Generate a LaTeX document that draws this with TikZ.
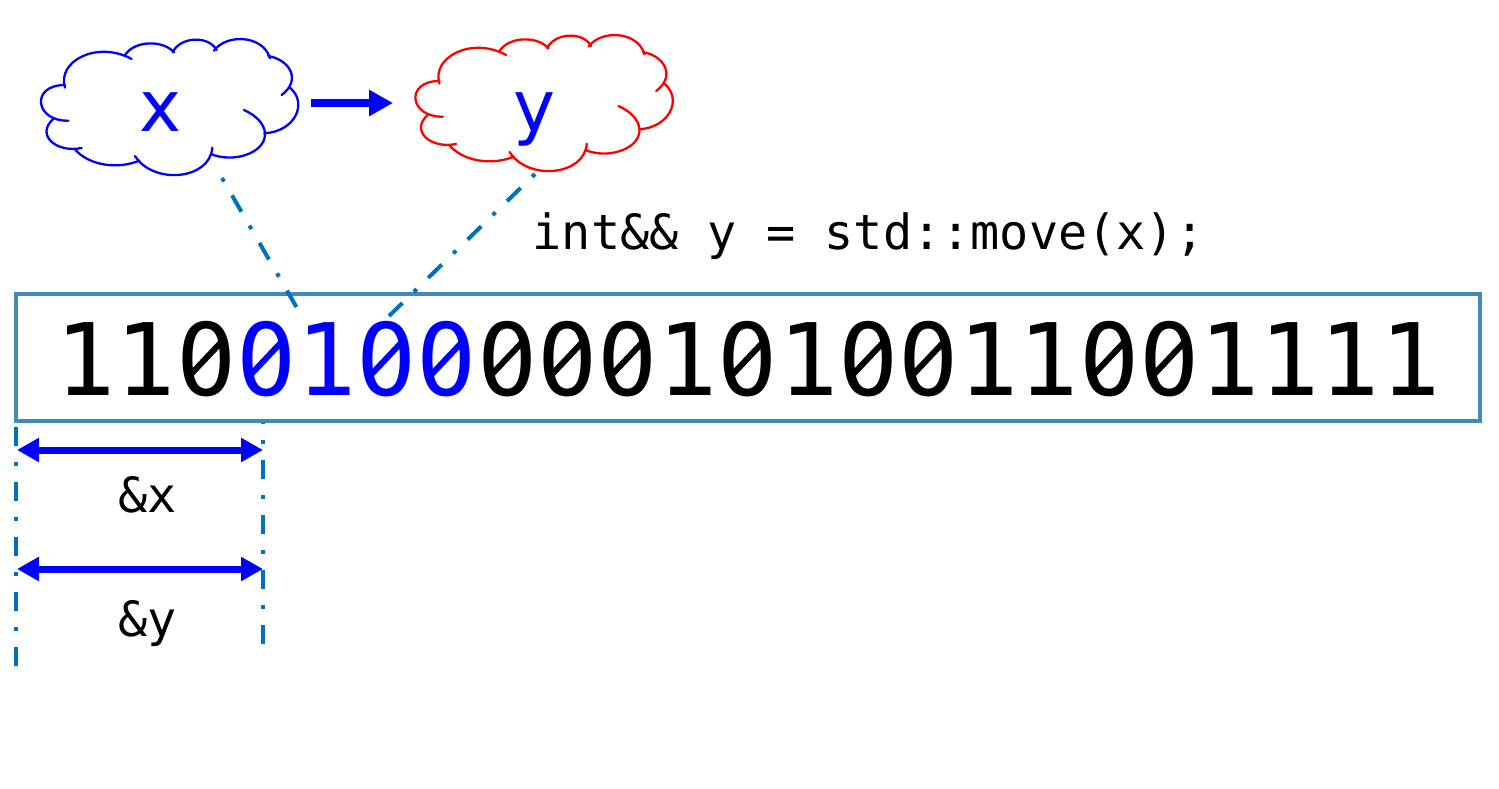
\documentclass[tikz,border=0pt]{standalone}
\usepackage{fontspec}
\setmainfont{DejaVu Sans}
\newfontfamily\monof{DejaVu Sans Mono}
\usetikzlibrary{arrows.meta}
\definecolor{boxc}{RGB}{64,139,181}
\definecolor{dashc}{RGB}{0,112,192}
\definecolor{bluec}{RGB}{0,0,255}
\tikzset{
  cloudline/.style={line width=2.3pt,line cap=round},
  dd/.style={dashc,line width=4pt,dash pattern=on 19pt off 16pt on 4pt off 16pt},
  ddot/.style={dd,dash phase=35pt},
  dimarrow/.style={bluec,line width=7pt,{Triangle[length=22pt,width=23pt]}-{Triangle[length=22pt,width=23pt]}},
  bigarrow/.style={bluec,line width=7.5pt,-{Triangle[length=24pt,width=25pt]}},
  codetext/.style={font=\monof\fontsize{48.5}{48.5}\selectfont,inner sep=0pt,anchor=base},
  cloudlabel/.style={font=\fontsize{71}{71}\selectfont,text=bluec,inner sep=0pt,anchor=base},
  zeroslash/.style={line width=6pt},
}
\newcommand{\cloudshape}[1]{%
\begin{scope}[#1,cloudline,x=0.3333pt,y=-0.3333pt]
\draw (135,203) .. controls (110,125) and (230,60) .. (335,117);
\draw (315,105) .. controls (345,60) and (430,60) .. (462,97);
\draw (458,97) .. controls (480,50) and (565,45) .. (590,90);
\draw (582,92) .. controls (620,40) and (730,45) .. (750,115);
\draw (745,108) .. controls (810,120) and (845,180) .. (785,225);
\draw (810,203) .. controls (865,250) and (825,335) .. (733,340);
\draw (672,270) .. controls (750,305) and (755,370) .. (690,400) .. controls (650,418) and (605,415) .. (575,403);
\draw (577,383) .. controls (570,480) and (400,495) .. (345,408);
\draw (358,422) .. controls (290,450) and (205,435) .. (165,388);
\draw (185,384) .. controls (110,400) and (45,345) .. (100,297);
\draw (145,302) .. controls (45,305) and (30,195) .. (135,195);
\end{scope}}
\newcommand{\zeroslashat}[2]{%
  \fill[white] ({84.9+60.2*#1},359) circle (9pt);
  \draw[zeroslash,#2] ({84.9+60.2*#1-17},377) -- ({84.9+60.2*#1+17},341);}
\begin{document}
\begin{tikzpicture}[x=1pt,y=-1pt]
\useasboundingbox (0,0) rectangle (1499,788);
\fill[white] (0,0) rectangle (1499,788);
\cloudshape{bluec,shift={(20,20)}}
\cloudshape{red,shift={(394.5,16)}}
\node[cloudlabel] (x) at (161,131) {x};
\node[cloudlabel] (y) at (534.5,131) {y};
\coordinate (arrS) at (311,103);
\coordinate (arrE) at (393,103);
\draw[bigarrow] (arrS) -- (arrE);
\node[codetext] (code) at (868.5,249) {int\&\& y = std::move(x);};
\coordinate (l1) at (16,427); \coordinate (l2) at (16,667);
\coordinate (r1) at (263,405); \coordinate (r2) at (263,645);
\draw[dd] (l1) -- (l2);
\draw[dd] (r1) -- (r2);
\node[draw=boxc,fill=white,line width=3.5pt,minimum width=1464pt,minimum height=127pt,inner sep=0pt,anchor=north west] (mem) at (14.25,292.25) {};
\node[font=\monof\fontsize{100}{100}\selectfont,inner sep=0pt,anchor=base] (bits) at (748,395) {110\textcolor{bluec}{0100}0001010011001111};
\foreach \i in {2,7,8,9,11,13,14,17,18} {\zeroslashat{\i}{black}}
\foreach \i in {3,5,6} {\zeroslashat{\i}{bluec}}
\coordinate (xa) at (222,178); \coordinate (xb) at (297,308);
\coordinate (ya) at (535,174); \coordinate (yb) at (389,316);
\draw[ddot] (xa) -- (xb);
\draw[ddot] (ya) -- (yb);
\coordinate (a1) at (17,450); \coordinate (a2) at (263,450);
\coordinate (b1) at (17,569); \coordinate (b2) at (263,569);
\draw[dimarrow] (a1) -- (a2);
\draw[dimarrow] (b1) -- (b2);
\node[codetext] (lx) at (147.5,512) {\&x};
\node[codetext] (ly) at (147.5,636) {\&y};
\end{tikzpicture}
\end{document}
